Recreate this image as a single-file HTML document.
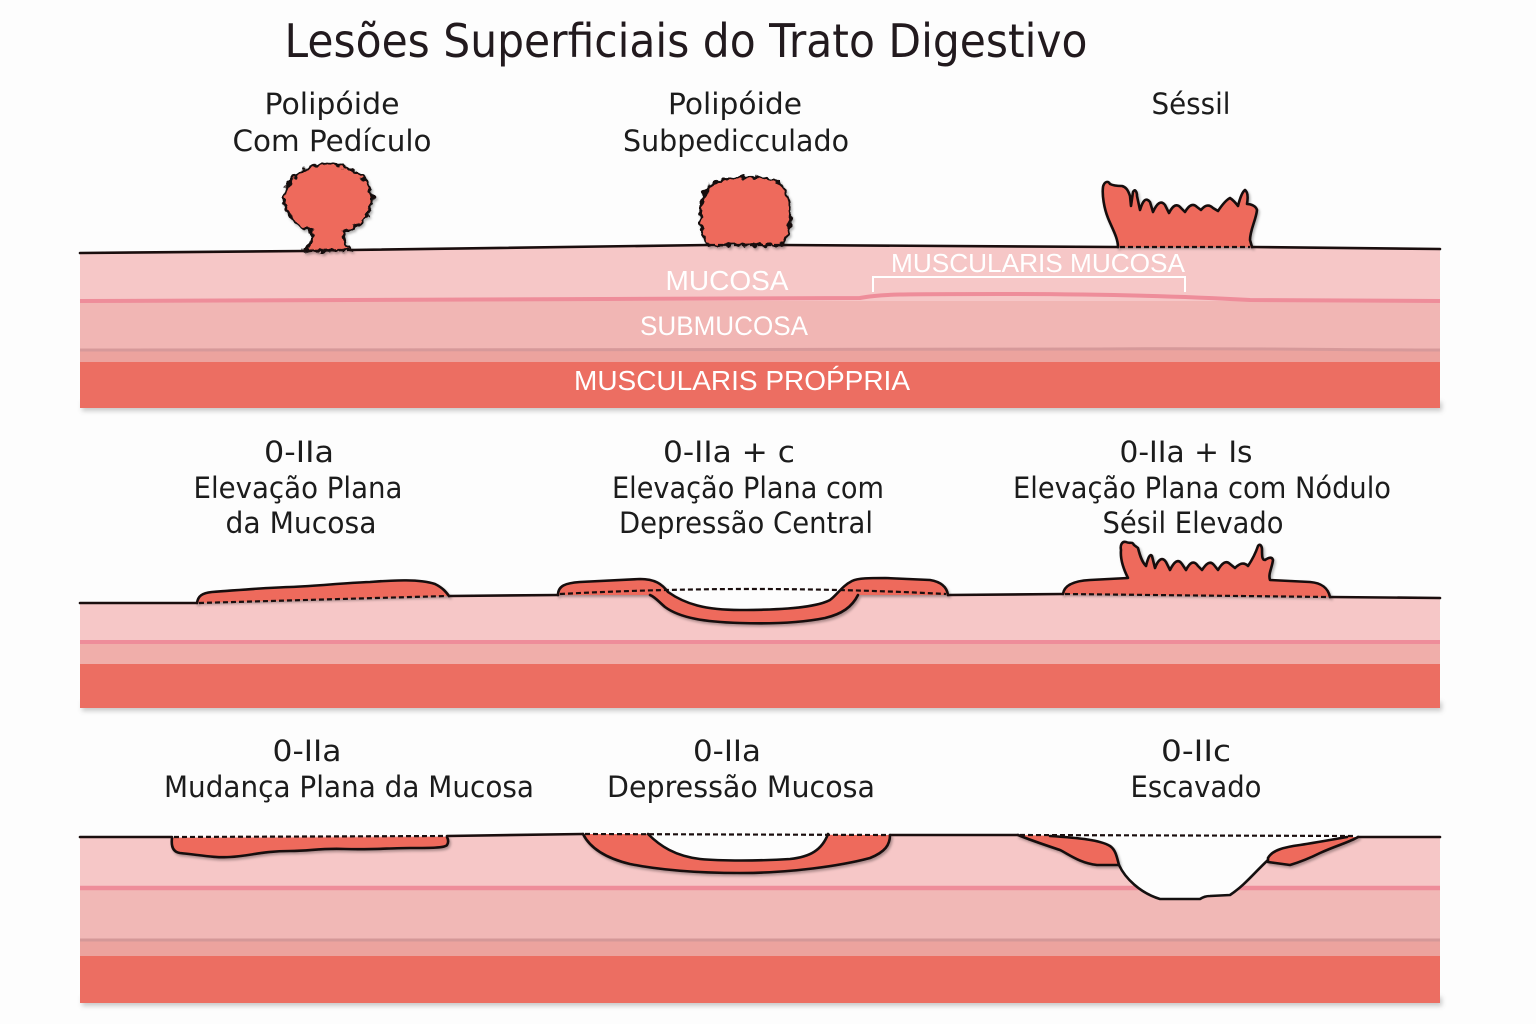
<!DOCTYPE html>
<html><head><meta charset="utf-8"><style>
html,body{margin:0;padding:0;background:#fdfdfd;}
svg{display:block;}
.lbl{font-family:"DejaVu Sans","Liberation Sans",sans-serif;font-size:29px;fill:#1c1c1c;text-anchor:middle;}
.wl{font-family:"Liberation Sans","DejaVu Sans",sans-serif;fill:#ffffff;text-anchor:middle;}
.ol{fill:none;stroke:#141010;stroke-width:2.6;stroke-linejoin:round;stroke-linecap:round;}
.sf{fill:none;stroke:#1a0e0e;stroke-width:2.6;stroke-linecap:round;}
.ds{fill:none;stroke:#1a0e0e;stroke-width:2.2;stroke-dasharray:5 3;}
.les{fill:#ee6a5c;}
</style></head><body>
<svg width="1536" height="1024" viewBox="0 0 1536 1024" xmlns="http://www.w3.org/2000/svg">
<defs>
<filter id="blur" x="-10%" y="-200%" width="120%" height="500%"><feGaussianBlur stdDeviation="2.5"/></filter>
<filter id="sh" x="-20%" y="-20%" width="140%" height="160%"><feDropShadow dx="1.5" dy="2" stdDeviation="1.3" flood-color="#000" flood-opacity="0.3"/></filter>
<filter id="bumpy" x="-25%" y="-25%" width="150%" height="150%">
<feTurbulence type="fractalNoise" baseFrequency="0.19" numOctaves="1" seed="4" result="t"/>
<feDisplacementMap in="SourceGraphic" in2="t" scale="9" xChannelSelector="R" yChannelSelector="G" result="d"/>
<feDropShadow dx="1.5" dy="2" stdDeviation="1.3" flood-color="#000" flood-opacity="0.3"/>
</filter>
</defs>

<rect width="1536" height="1024" fill="#fdfdfd"/>

<!-- Title -->
<text x="686" y="57" textLength="803" lengthAdjust="spacingAndGlyphs" style="font-family:'DejaVu Sans','Liberation Sans',sans-serif;font-size:46px;fill:#221a1e;text-anchor:middle;">Lesões Superficiais do Trato Digestivo</text>

<!-- Row 1 labels -->
<text class="lbl" x="332" y="114" textLength="135" lengthAdjust="spacingAndGlyphs">Polipóide</text>
<text class="lbl" x="332" y="151" textLength="199" lengthAdjust="spacingAndGlyphs">Com Pedículo</text>
<text class="lbl" x="735" y="114" textLength="134" lengthAdjust="spacingAndGlyphs">Polipóide</text>
<text class="lbl" x="736" y="151" textLength="226" lengthAdjust="spacingAndGlyphs">Subpedicculado</text>
<text class="lbl" x="1191" y="114" textLength="79" lengthAdjust="spacingAndGlyphs">Séssil</text>

<!-- ===== BAND 1 ===== -->
<rect x="82" y="402" width="1360" height="9" fill="#8a8a8a" opacity="0.45" filter="url(#blur)"/>
<path d="M80,253 L305,251 L350,250 L708,245 L782,245 L1118,246 L1252,247 L1440,249 L1440,302 L80,302 Z" fill="#f6c7c7"/>
<rect x="80" y="301" width="1360" height="50" fill="#f1b6b4"/>
<rect x="80" y="350" width="1360" height="13" fill="#eca39e"/>
<path d="M80,350 C400,348 800,352 1100,349 C1250,348 1350,350 1440,350" fill="none" stroke="#d6999a" stroke-width="3"/>
<rect x="80" y="362" width="1360" height="46" fill="#ec6e62"/>
<path d="M80,301 L860,298 C880,294 900,294 1000,294 C1100,294 1180,296 1250,300 L1440,301" fill="none" stroke="#ee8d9a" stroke-width="4"/>

<text class="wl" x="727" y="290" style="font-size:28px" textLength="123" lengthAdjust="spacingAndGlyphs">MUCOSA</text>
<text class="wl" x="1038" y="272" style="font-size:26px" textLength="294" lengthAdjust="spacingAndGlyphs">MUSCULARIS MUCOSA</text>
<path d="M873,292 L873,277 L1185,277 L1185,292" fill="none" stroke="#ffffff" stroke-width="2"/>
<text class="wl" x="724" y="335" style="font-size:27px" textLength="168" lengthAdjust="spacingAndGlyphs">SUBMUCOSA</text>
<text class="wl" x="742" y="390" style="font-size:28px" textLength="336" lengthAdjust="spacingAndGlyphs">MUSCULARIS PROṔPRIA</text>

<!-- polyp 1 pedunculated -->
<g filter="url(#bumpy)">
<path d="M303,251 C310,247 313,240 313,232 A44,35 0 1 1 343,232 C343,240 346,247 352,250 Z" fill="#ee6a5c" stroke="#141010" stroke-width="2.8" stroke-linejoin="round"/>
</g>
<!-- polyp 2 subpedunculated -->
<g filter="url(#bumpy)">
<path d="M708,245 C698,232 698,200 708,188 C718,175 770,172 782,186 C793,198 793,232 782,245 Z" fill="#ee6a5c" stroke="#141010" stroke-width="2.8" stroke-linejoin="round"/>
</g>
<!-- sessile -->
<g filter="url(#sh)">
<path class="les" d="M1118,247 C1118,238 1112,228 1108,218 C1104,208 1102,195 1103,187 C1104,182 1108,180 1110,184 C1114,186 1118,186 1122,186 C1126,187 1128,190 1130,196 L1131,206 L1133,192 C1135,188 1137,192 1137,196 L1140,210 C1143,200 1146,197 1150,202 L1153,212 C1157,203 1161,200 1165,205 L1169,213 C1173,205 1177,203 1181,208 L1185,212 C1189,205 1193,203 1197,207 L1201,210 C1205,205 1209,204 1213,208 L1218,211 C1222,205 1226,200 1230,198 C1233,200 1235,202 1238,206 C1240,198 1242,192 1245,190 C1248,192 1248,198 1247,204 C1251,204 1256,206 1257,210 C1256,220 1250,230 1250,240 L1252,247 Z"/>
<path class="ol" d="M1118,247 C1118,238 1112,228 1108,218 C1104,208 1102,195 1103,187 C1104,182 1108,180 1110,184 C1114,186 1118,186 1122,186 C1126,187 1128,190 1130,196 L1131,206 L1133,192 C1135,188 1137,192 1137,196 L1140,210 C1143,200 1146,197 1150,202 L1153,212 C1157,203 1161,200 1165,205 L1169,213 C1173,205 1177,203 1181,208 L1185,212 C1189,205 1193,203 1197,207 L1201,210 C1205,205 1209,204 1213,208 L1218,211 C1222,205 1226,200 1230,198 C1233,200 1235,202 1238,206 C1240,198 1242,192 1245,190 C1248,192 1248,198 1247,204 C1251,204 1256,206 1257,210 C1256,220 1250,230 1250,240 L1252,247"/>
</g>
<!-- surface row 1 -->
<path class="sf" d="M80,253 L305,251"/>
<path class="ds" d="M307,251 L349,250"/>
<path class="sf" d="M350,250 L708,245"/>
<path class="ds" d="M710,245 L781,245"/>
<path class="sf" d="M782,245 L1118,247"/>
<path class="ds" d="M1120,247 L1250,247"/>
<path class="sf" d="M1252,247 L1440,249"/>

<!-- Row 2 labels -->
<text class="lbl" x="299" y="462" textLength="70" lengthAdjust="spacingAndGlyphs">0-IIa</text>
<text class="lbl" x="298" y="498" textLength="209" lengthAdjust="spacingAndGlyphs">Elevação Plana</text>
<text class="lbl" x="301" y="533" textLength="151" lengthAdjust="spacingAndGlyphs">da Mucosa</text>
<text class="lbl" x="729" y="462" textLength="132" lengthAdjust="spacingAndGlyphs">0-IIa + c</text>
<text class="lbl" x="748" y="498" textLength="272" lengthAdjust="spacingAndGlyphs">Elevação Plana com</text>
<text class="lbl" x="746" y="533" textLength="254" lengthAdjust="spacingAndGlyphs">Depressão Central</text>
<text class="lbl" x="1186" y="462" textLength="133" lengthAdjust="spacingAndGlyphs">0-IIa + Is</text>
<text class="lbl" x="1202" y="498" textLength="378" lengthAdjust="spacingAndGlyphs">Elevação Plana com Nódulo</text>
<text class="lbl" x="1193" y="533" textLength="181" lengthAdjust="spacingAndGlyphs">Sésil Elevado</text>

<!-- ===== BAND 2 ===== -->
<rect x="82" y="702" width="1360" height="9" fill="#8a8a8a" opacity="0.45" filter="url(#blur)"/>
<path d="M80,603 L197,603 L449,596 L558,595 L948,595 L1063,594 L1330,597 L1440,598 L1440,644 L80,644 Z" fill="#f6c7c7"/>
<rect x="80" y="643" width="1360" height="22" fill="#f0aeaa"/>
<rect x="80" y="664" width="1360" height="44" fill="#ec6e62"/>
<path d="M80,642 L1440,642" stroke="#ee8d9a" stroke-width="4"/>

<!-- 0-IIa flat elevation -->
<g filter="url(#sh)">
<path class="les" d="M197,603 C198,596 202,593 212,592 C240,590 260,588 290,587 C320,586 340,583 370,582 C395,580 420,579 435,584 C443,588 446,592 449,596 Z"/>
<path class="ol" d="M197,603 C198,596 202,593 212,592 C240,590 260,588 290,587 C320,586 340,583 370,582 C395,580 420,579 435,584 C443,588 446,592 449,596"/>
</g>

<!-- 0-IIa + c -->
<path d="M655,595 L668,592 C685,604 705,610 740,610 C780,610 815,608 830,600 C838,594 842,590 846,588 L850,595 Z" fill="#fdfdfd"/>
<g filter="url(#sh)">
<path class="les" d="M558,595 C558,586 565,583 580,582 L640,579 C655,579 662,584 668,592 C685,604 705,610 740,610 C780,610 815,608 830,600 C838,594 842,586 852,581 C858,578 870,578 885,578 L930,580 C942,582 947,588 948,595 L858,595 C852,607 842,614 825,618 C800,623 770,624 740,623 C705,622 680,618 665,607 C658,601 655,597 650,595 Z"/>
<path class="ol" d="M558,595 C558,586 565,583 580,582 L640,579 C655,579 662,584 668,592 C685,604 705,610 740,610 C780,610 815,608 830,600 C838,594 842,586 852,581 C858,578 870,578 885,578 L930,580 C942,582 947,588 948,595"/>
<path class="ol" d="M858,595 C852,607 842,614 825,618 C800,623 770,624 740,623 C705,622 680,618 665,607 C658,601 655,597 650,595"/>
</g>

<!-- 0-IIa + Is -->
<g filter="url(#sh)">
<path class="les" d="M1063,594 C1064,586 1072,581 1090,580 L1128,578 C1124,570 1120,560 1121,550 C1120,545 1122,541 1126,542 C1130,544 1132,541 1134,545 L1138,548 C1140,556 1142,562 1146,566 C1148,558 1150,553 1152,556 L1155,568 C1158,560 1162,556 1166,562 L1170,570 C1174,562 1178,558 1182,564 L1186,570 C1190,562 1194,560 1198,566 L1202,570 C1206,564 1210,560 1214,565 L1218,570 C1222,563 1226,560 1230,564 L1235,568 C1240,563 1244,562 1248,566 C1252,560 1256,552 1258,546 C1260,543 1262,546 1262,550 C1262,556 1262,560 1265,560 C1268,558 1272,556 1273,560 C1272,568 1268,574 1270,580 L1310,582 C1322,583 1328,588 1330,597 Z"/>
<path class="ol" d="M1063,594 C1064,586 1072,581 1090,580 L1128,578 C1124,570 1120,560 1121,550 C1120,545 1122,541 1126,542 C1130,544 1132,541 1134,545 L1138,548 C1140,556 1142,562 1146,566 C1148,558 1150,553 1152,556 L1155,568 C1158,560 1162,556 1166,562 L1170,570 C1174,562 1178,558 1182,564 L1186,570 C1190,562 1194,560 1198,566 L1202,570 C1206,564 1210,560 1214,565 L1218,570 C1222,563 1226,560 1230,564 L1235,568 C1240,563 1244,562 1248,566 C1252,560 1256,552 1258,546 C1260,543 1262,546 1262,550 C1262,556 1262,560 1265,560 C1268,558 1272,556 1273,560 C1272,568 1268,574 1270,580 L1310,582 C1322,583 1328,588 1330,597"/>
</g>

<!-- surface row 2 -->
<path class="sf" d="M80,603 L197,603"/>
<path class="ds" d="M199,603 L447,596"/>
<path class="sf" d="M449,596 L558,595"/>
<path class="ds" d="M560,594 Q750,584 946,594"/>
<path class="sf" d="M948,595 L1063,594"/>
<path class="ds" d="M1065,594 L1328,597"/>
<path class="sf" d="M1330,597 L1440,598"/>

<!-- Row 3 labels -->
<text class="lbl" x="307" y="761" textLength="69" lengthAdjust="spacingAndGlyphs">0-IIa</text>
<text class="lbl" x="349" y="797" textLength="370" lengthAdjust="spacingAndGlyphs">Mudança Plana da Mucosa</text>
<text class="lbl" x="727" y="761" textLength="68" lengthAdjust="spacingAndGlyphs">0-IIa</text>
<text class="lbl" x="741" y="797" textLength="268" lengthAdjust="spacingAndGlyphs">Depressão Mucosa</text>
<text class="lbl" x="1196" y="761" textLength="70" lengthAdjust="spacingAndGlyphs">0-IIc</text>
<text class="lbl" x="1196" y="797" textLength="131" lengthAdjust="spacingAndGlyphs">Escavado</text>

<!-- ===== BAND 3 ===== -->
<rect x="82" y="997" width="1360" height="9" fill="#8a8a8a" opacity="0.45" filter="url(#blur)"/>
<path d="M80,837 L172,837 L447,836 L583,834 L890,835 L1018,835 L1358,837 L1440,837 L1440,890 L80,890 Z" fill="#f6c7c7"/>
<rect x="80" y="889" width="1360" height="52" fill="#f1b8b6"/>
<rect x="80" y="940" width="1360" height="17" fill="#eca39e"/>
<path d="M80,940 L1440,940" stroke="#d49898" stroke-width="3"/>
<rect x="80" y="956" width="1360" height="47" fill="#ec6e62"/>
<path d="M80,888 L1440,888" stroke="#ee8d9a" stroke-width="4.5"/>

<!-- flat change -->
<g filter="url(#sh)">
<path class="les" d="M172,838 C171,846 173,852 180,853 C200,855 215,858 230,857 C250,856 262,851 290,851 C310,851 320,848 345,849 C370,850 390,848 410,848 C430,848 445,848 447,845 C449,842 448,839 447,837 Z"/>
<path class="ol" d="M172,838 C171,846 173,852 180,853 C200,855 215,858 230,857 C250,856 262,851 290,851 C310,851 320,848 345,849 C370,850 390,848 410,848 C430,848 445,848 447,845 C449,842 448,839 447,837"/>
</g>

<!-- depression mucosa -->
<g filter="url(#sh)">
<path class="les" d="M583,834 C590,848 605,858 630,864 C660,870 700,873 740,873 C790,873 840,866 870,858 C885,852 890,845 890,835 Z"/>
<path class="ol" d="M583,834 C590,848 605,858 630,864 C660,870 700,873 740,873 C790,873 840,866 870,858 C885,852 890,845 890,835"/>
</g>
<path d="M648,834 C660,846 675,856 700,859 C720,861 760,861 790,859 C810,857 822,850 828,834 Z" fill="#fdfdfd"/>
<path class="ol" d="M648,834 C660,846 675,856 700,859 C720,861 760,861 790,859 C810,857 822,850 828,834"/>

<!-- excavated -->
<path d="M1040,835 C1080,837 1100,840 1110,846 C1116,850 1118,858 1119,865 C1125,878 1140,893 1160,899 L1200,899 C1203,897 1207,896 1210,896 L1230,895 C1245,885 1255,872 1268,860 C1272,850 1285,847 1300,845 C1320,842 1340,838 1350,835 Z" fill="#fdfdfd"/>
<path class="ol" d="M1119,865 C1125,878 1140,893 1160,899 L1200,899 C1203,897 1207,896 1210,896 L1230,895 C1245,885 1255,872 1268,860"/>
<g filter="url(#sh)">
<path class="les" d="M1018,835 C1030,840 1045,845 1060,850 C1070,855 1080,863 1097,865 L1119,865 C1117,858 1116,850 1110,846 C1100,840 1080,838 1050,836 Z"/>
<path class="ol" d="M1018,835 C1030,840 1045,845 1060,850 C1070,855 1080,863 1097,865 L1119,865 C1117,858 1116,850 1110,846 C1100,840 1080,838 1050,836"/>
<path class="les" d="M1268,862 L1290,865 C1300,862 1310,858 1320,853 C1335,846 1350,842 1358,837 L1347,837 C1330,840 1313,843 1300,845 C1285,847 1272,850 1268,858 Z"/>
<path class="ol" d="M1268,862 L1290,865 C1300,862 1310,858 1320,853 C1335,846 1350,842 1358,837 M1347,837 C1330,840 1313,843 1300,845 C1285,847 1272,850 1268,858 L1268,862"/>
</g>

<!-- surface row 3 -->
<path class="sf" d="M80,837 L172,837"/>
<path class="ds" d="M174,837 L446,836"/>
<path class="sf" d="M447,836 L583,834"/>
<path class="ds" d="M585,834 L889,835"/>
<path class="sf" d="M890,835 L1018,835"/>
<path class="ds" d="M1020,835 L1356,836"/>
<path class="sf" d="M1358,837 L1440,837"/>
</svg>
</body></html>
